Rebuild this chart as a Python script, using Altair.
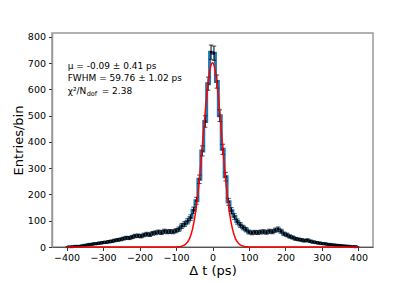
import altair as alt
import pandas as pd

# bin centres (8 ps bins from -400 to 400)
centers = list(range(-396, 400, 8))

counts_left = [1, 1, 2, 3, 3, 5, 7, 9, 10, 12,
               13, 15, 17, 18, 20, 22, 25, 27, 29, 32,
               35, 34, 38, 42, 43, 41, 46, 49, 47, 52,
               54, 57, 55, 60, 58, 59, 58, 62, 68, 80,
               88, 98, 112, 140, 176, 258, 366, 478, 622, 742]
counts_right = [738, 630, 500, 372, 268, 172, 138, 116, 97, 84,
                74, 66, 57, 54, 56, 55, 57, 58, 56, 60,
                58, 64, 68, 60, 50, 46, 40, 36, 31, 29,
                27, 24, 26, 22, 19, 17, 15, 13, 12, 10,
                9, 8, 7, 6, 5, 4, 3, 2, 2, 1]
counts = counts_left + counts_right

# Gaussian fit curve
fit_x = [-400, -100, -95, -90, -85, -80, -75, -70, -65, -60, -55, -50, -45, -40,
         -35, -30, -25, -20, -15, -10, -5, 0, 5, 10, 15, 20, 25, 30, 35, 40,
         45, 50, 55, 60, 65, 70, 75, 80, 85, 90, 95, 100, 400]
fit_y = [0, 0.3, 0.7, 1.3, 2.6, 5, 9, 16, 26, 43, 67, 101, 146, 203,
         271, 349, 432, 514, 590, 649, 688, 702, 688, 649, 590, 514, 432, 349, 271, 203,
         146, 101, 67, 43, 26, 16, 9, 5, 2.6, 1.3, 0.7, 0.3, 0]

ann_x = [-397, -397, -397]
ann_y = [688, 642, 596]
ann_text = ["μ = -0.09 ± 0.41 ps", "FWHM = 59.76 ± 1.02 ps", "χ²/N"]

x_ticks = [-400, -300, -200, -100, 0, 100, 200, 300, 400]
y_ticks = [0, 100, 200, 300, 400, 500, 600, 700, 800]

FONT = "DejaVu Sans"

df = pd.DataFrame({"t": centers, "n": counts})
df_fit = pd.DataFrame({"t": fit_x, "f": fit_y})
df_ann = pd.DataFrame({"x": ann_x, "y": ann_y, "s": ann_text})

xs = alt.Scale(domain=[-440, 440], nice=False, zero=False)
ys = alt.Scale(domain=[0, 815], nice=False, zero=False)

x_axis = alt.Axis(values=x_ticks, title="Δ t (ps)", domainColor="#555555",
                  labelPadding=2, titlePadding=2)
y_axis = alt.Axis(values=y_ticks, title="Entries/bin", domainColor="#999999",
                  domainWidth=1.5, labelPadding=3, titlePadding=2)


def X(f):
    return alt.X(f, type="quantitative", scale=xs, axis=x_axis)


def Y(f):
    return alt.Y(f, type="quantitative", scale=ys, axis=y_axis)


base = alt.Chart(df)

step = base.mark_line(interpolate="step", color="#1f77b4", strokeWidth=3).encode(
    x=X("t"), y=Y("n"),
)

errs = base.transform_calculate(
    lo="datum.n - sqrt(datum.n)", hi="datum.n + sqrt(datum.n)"
)
bars = errs.mark_rule(color="black", strokeWidth=1).encode(
    x=X("t"), y=Y("lo"), y2="hi:Q"
)
cap_lo = errs.mark_tick(orient="horizontal", color="black", size=4.5, thickness=1).encode(
    x=X("t"), y=Y("lo")
)
cap_hi = errs.mark_tick(orient="horizontal", color="black", size=4.5, thickness=1).encode(
    x=X("t"), y=Y("hi")
)
pts = base.mark_square(color="black", size=5, opacity=1).encode(x=X("t"), y=Y("n"))

fit = alt.Chart(df_fit).mark_line(color="red", strokeWidth=1.5, interpolate="monotone").encode(
    x=X("t"), y=Y("f")
)

ann = alt.Chart(df_ann).mark_text(align="left", baseline="middle", font=FONT,
                                   fontSize=9, color="black").encode(
    x=X("x"), y=Y("y"), text="s:N"
)
sub = alt.Chart(df_ann.iloc[[2]]).mark_text(align="left", baseline="middle", font=FONT,
                                            fontSize=6.5, color="black", dx=19, dy=3).encode(
    x=X("x"), y=Y("y"), text=alt.value("dof")
)
eq = alt.Chart(df_ann.iloc[[2]]).mark_text(align="left", baseline="middle", font=FONT,
                                           fontSize=9, color="black", dx=34).encode(
    x=X("x"), y=Y("y"), text=alt.value("= 2.38")
)

chart = alt.layer(step, bars, cap_lo, cap_hi, pts, fit, ann, sub, eq).properties(
    width=321, height=214,
    autosize=alt.AutoSizeParams(type="none"),
    padding={"left": 44, "top": 25, "right": 34, "bottom": 36},
    background="white",
).configure_view(stroke="#999999", strokeWidth=1.5).configure_axis(
    grid=False, tickSize=3.5, labelFontSize=9.5, titleFontSize=13,
    titleFontWeight="normal", labelFont=FONT, titleFont=FONT,
    labelColor="black", titleColor="black", tickColor="#333333",
    labelOverlap=False, labelFlush=False,
)

chart.save("out.html", embed_options={"renderer": "svg", "actions": False})
